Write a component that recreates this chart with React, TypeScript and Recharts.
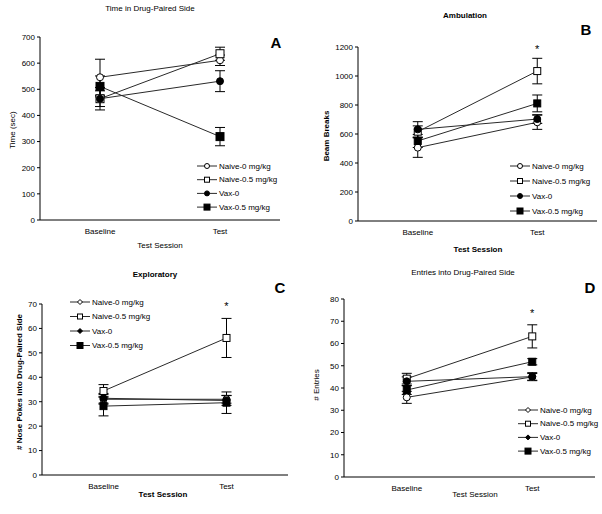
import React from 'react';
import { LineChart, Line, XAxis, YAxis, ErrorBar, ReferenceDot } from 'recharts';

const sessions = ['Baseline', 'Test'];

// A: time in drug-paired side (sec)
const aNaive0 = [546, 611];
const aNaive0Err = [69, 20];
const aNaive05 = [464, 636];
const aNaive05Err = [43, 25];
const aVax0 = [464, 531];
const aVax0Err = [30, 40];
const aVax05 = [511, 319];
const aVax05Err = [40, 35];
const aTicks = [0, 100, 200, 300, 400, 500, 600, 700];

// B: ambulation (beam breaks)
const bNaive0 = [506, 681];
const bNaive0Err = [67, 49];
const bNaive05 = [616, 1034];
const bNaive05Err = [40, 88];
const bVax0 = [632, 703];
const bVax0Err = [53, 30];
const bVax05 = [552, 811];
const bVax05Err = [45, 58];
const bTicks = [0, 200, 400, 600, 800, 1000, 1200];
const bStar = 1186;

// C: exploratory (nose pokes)
const cNaive0 = [31, 31];
const cNaive0Err = [2, 1.6];
const cNaive05 = [34.4, 56.1];
const cNaive05Err = [2.6, 8];
const cVax0 = [31.4, 30.5];
const cVax0Err = [2, 2];
const cVax05 = [28.2, 29.6];
const cVax05Err = [4, 4.4];
const cTicks = [0, 10, 20, 30, 40, 50, 60, 70];
const cStar = 69.2;

// D: entries into drug-paired side
const dNaive0 = [35.8, 45];
const dNaive0Err = [2.7, 1.5];
const dNaive05 = [44.2, 63.2];
const dNaive05Err = [2.4, 5.2];
const dVax0 = [43, 45.1];
const dVax0Err = [2, 1.8];
const dVax05 = [39.1, 51.8];
const dVax05Err = [2, 1.4];
const dTicks = [0, 10, 20, 30, 40, 50, 60, 70, 80];
const dStar = 73.8;

const legendNames = ['Naive-0 mg/kg', 'Naive-0.5 mg/kg', 'Vax-0', 'Vax-0.5 mg/kg'];

const rows = (n0: number[], n0e: number[], n05: number[], n05e: number[], v0: number[], v0e: number[], v05: number[], v05e: number[]) =>
  sessions.map((s, i) => ({
    session: s,
    n0: n0[i], n0e: n0e[i],
    n05: n05[i], n05e: n05e[i],
    v0: v0[i], v0e: v0e[i],
    v05: v05[i], v05e: v05e[i],
  }));

const FONT = '"Liberation Sans", Arial, sans-serif';
const INK = '#000';
const LINE = '#2a2a2a';

const series = [
  { key: 'n0', shape: 'circle', fill: '#fff' },
  { key: 'n05', shape: 'square', fill: '#fff' },
  { key: 'v0', shape: 'circle', fill: '#000' },
  { key: 'v05', shape: 'square', fill: '#000' },
];

function Mark({ cx, cy, shape, fill, size }: any) {
  if (cx == null || cy == null) return null;
  if (shape === 'square') {
    return <rect x={cx - size / 2} y={cy - size / 2} width={size} height={size} fill={fill} stroke={INK} strokeWidth={1} />;
  }
  if (shape === 'diamond') {
    const h = size / 2;
    return <polygon points={`${cx},${cy - h} ${cx + h},${cy} ${cx},${cy + h} ${cx - h},${cy}`} fill={fill} stroke={INK} strokeWidth={1} />;
  }
  return <circle cx={cx} cy={cy} r={size / 2} fill={fill} stroke={INK} strokeWidth={1} />;
}

function Txt({ x, y, children, size = 8, bold = false, rotate = false }: any) {
  return (
    <div
      style={{
        position: 'absolute',
        left: x,
        top: y,
        transform: `translate(-50%, -50%)${rotate ? ' rotate(-90deg)' : ''}`,
        whiteSpace: 'nowrap',
        fontFamily: FONT,
        fontSize: size,
        fontWeight: bold ? 'bold' : 'normal',
        color: INK,
        lineHeight: 1,
      }}
    >
      {children}
    </div>
  );
}

function Legend({ x, y, gap, diamonds }: any) {
  return (
    <svg style={{ position: 'absolute', left: x, top: y - 6 }} width={100} height={gap * 3 + 12}>
      {series.map((s, i) => {
        const cy = 6 + i * gap;
        const shape = s.shape === 'circle' && diamonds ? 'diamond' : s.shape;
        const size = s.shape === 'square' ? (s.fill === '#000' ? 6 : 5) : 5;
        return (
          <g key={s.key}>
            <line x1={0} x2={20} y1={cy} y2={cy} stroke={LINE} strokeWidth={1} />
            <Mark cx={10} cy={cy} shape={shape} fill={s.fill} size={size} />
            <text x={22} y={cy} dominantBaseline="central" fontFamily={FONT} fontSize={8} fill={INK}>
              {legendNames[i]}
            </text>
          </g>
        );
      })}
    </svg>
  );
}

function Panel({ left, top, width, height, plot, data, domain, ticks, star, sq = 8 }: any) {
  const yW = 30;
  const xH = 20;
  const margin = {
    top: plot.t - top,
    left: plot.l - left - yW,
    right: left + width - plot.r,
    bottom: top + height - plot.b - xH,
  };
  // categories sit in the middle of two equal bands
  const pad = (plot.r - plot.l) / 4;
  return (
    <div style={{ position: 'absolute', left, top }}>
      <LineChart width={width} height={height} data={data} margin={margin}>
        <XAxis
          dataKey="session"
          height={xH}
          padding={{ left: pad, right: pad }}
          axisLine={{ stroke: INK }}
          tickLine={false}
          tickSize={6}
          tickMargin={2}
          tick={{ fontSize: 8, fill: INK, fontFamily: FONT }}
        />
        <YAxis
          width={yW}
          domain={domain}
          ticks={ticks}
          interval={0}
          axisLine={{ stroke: INK }}
          tickLine={{ stroke: INK }}
          tickSize={3}
          tickMargin={2}
          tick={{ fontSize: 8, fill: INK, fontFamily: FONT }}
        />
        {series.map((s) => (
          <Line
            key={s.key}
            dataKey={s.key}
            stroke={LINE}
            strokeWidth={1}
            isAnimationActive={false}
            dot={(p: any) => (
              <Mark key={`${s.key}-${p.index}`} cx={p.cx} cy={p.cy} shape={s.shape} fill={s.fill} size={s.shape === 'square' ? sq : 7} />
            )}
          >
            <ErrorBar dataKey={`${s.key}e`} width={5} stroke={INK} strokeWidth={1} isAnimationActive={false} />
          </Line>
        ))}
        {star != null && (
          <ReferenceDot
            x="Test"
            y={star}
            r={0}
            shape={(p: any) => (
              <text x={p.cx} y={p.cy + 4} textAnchor="middle" fontFamily={FONT} fontSize={11} fill={INK}>
                *
              </text>
            )}
          />
        )}
      </LineChart>
    </div>
  );
}

export default function App() {
  const dataA = rows(aNaive0, aNaive0Err, aNaive05, aNaive05Err, aVax0, aVax0Err, aVax05, aVax05Err);
  const dataB = rows(bNaive0, bNaive0Err, bNaive05, bNaive05Err, bVax0, bVax0Err, bVax05, bVax05Err);
  const dataC = rows(cNaive0, cNaive0Err, cNaive05, cNaive05Err, cVax0, cVax0Err, cVax05, cVax05Err);
  const dataD = rows(dNaive0, dNaive0Err, dNaive05, dNaive05Err, dVax0, dVax0Err, dVax05, dVax05Err);

  return (
    <div style={{ position: 'absolute', left: 0, top: 0, width: 602, height: 514, background: '#fff', overflow: 'hidden' }}>
      <Panel left={0} top={0} width={301} height={257} plot={{ l: 40, r: 280, t: 37, b: 220 }} data={dataA} domain={[0, 700]} ticks={aTicks} />
      <Panel left={301} top={0} width={301} height={257} plot={{ l: 358, r: 597, t: 47, b: 221 }} data={dataB} domain={[0, 1200]} ticks={bTicks} star={bStar} sq={7} />
      <Panel left={0} top={257} width={301} height={257} plot={{ l: 42, r: 288, t: 304, b: 475 }} data={dataC} domain={[0, 70]} ticks={cTicks} star={cStar} sq={7} />
      <Panel left={301} top={257} width={301} height={257} plot={{ l: 344, r: 595, t: 299, b: 477 }} data={dataD} domain={[0, 80]} ticks={dTicks} star={dStar} sq={7} />

      <Txt x={150} y={9}>Time in Drug-Paired Side</Txt>
      <Txt x={276} y={42} size={15} bold>A</Txt>
      <Txt x={13} y={130} rotate>Time (sec)</Txt>
      <Txt x={160} y={246}>Test Session</Txt>
      <Legend x={197} y={166} gap={13.7} />

      <Txt x={465} y={16} bold>Ambulation</Txt>
      <Txt x={586} y={29} size={15} bold>B</Txt>
      <Txt x={327} y={136} bold rotate>Beam Breaks</Txt>
      <Txt x={478} y={250} bold>Test Session</Txt>
      <Legend x={510} y={166} gap={15} />

      <Txt x={155} y={275} bold>Exploratory</Txt>
      <Txt x={280} y={287} size={15} bold>C</Txt>
      <Txt x={20} y={382} bold rotate># Nose Pokes into Drug-Paired Side</Txt>
      <Txt x={163} y={495} bold>Test Session</Txt>
      <Legend x={70} y={302} gap={14.5} diamonds />

      <Txt x={463} y={273}>Entries into Drug-Paired Side</Txt>
      <Txt x={590} y={287} size={15} bold>D</Txt>
      <Txt x={317} y={385} rotate># Entries</Txt>
      <Txt x={475} y={495}>Test Session</Txt>
      <Legend x={518} y={410} gap={13.7} diamonds />
    </div>
  );
}
